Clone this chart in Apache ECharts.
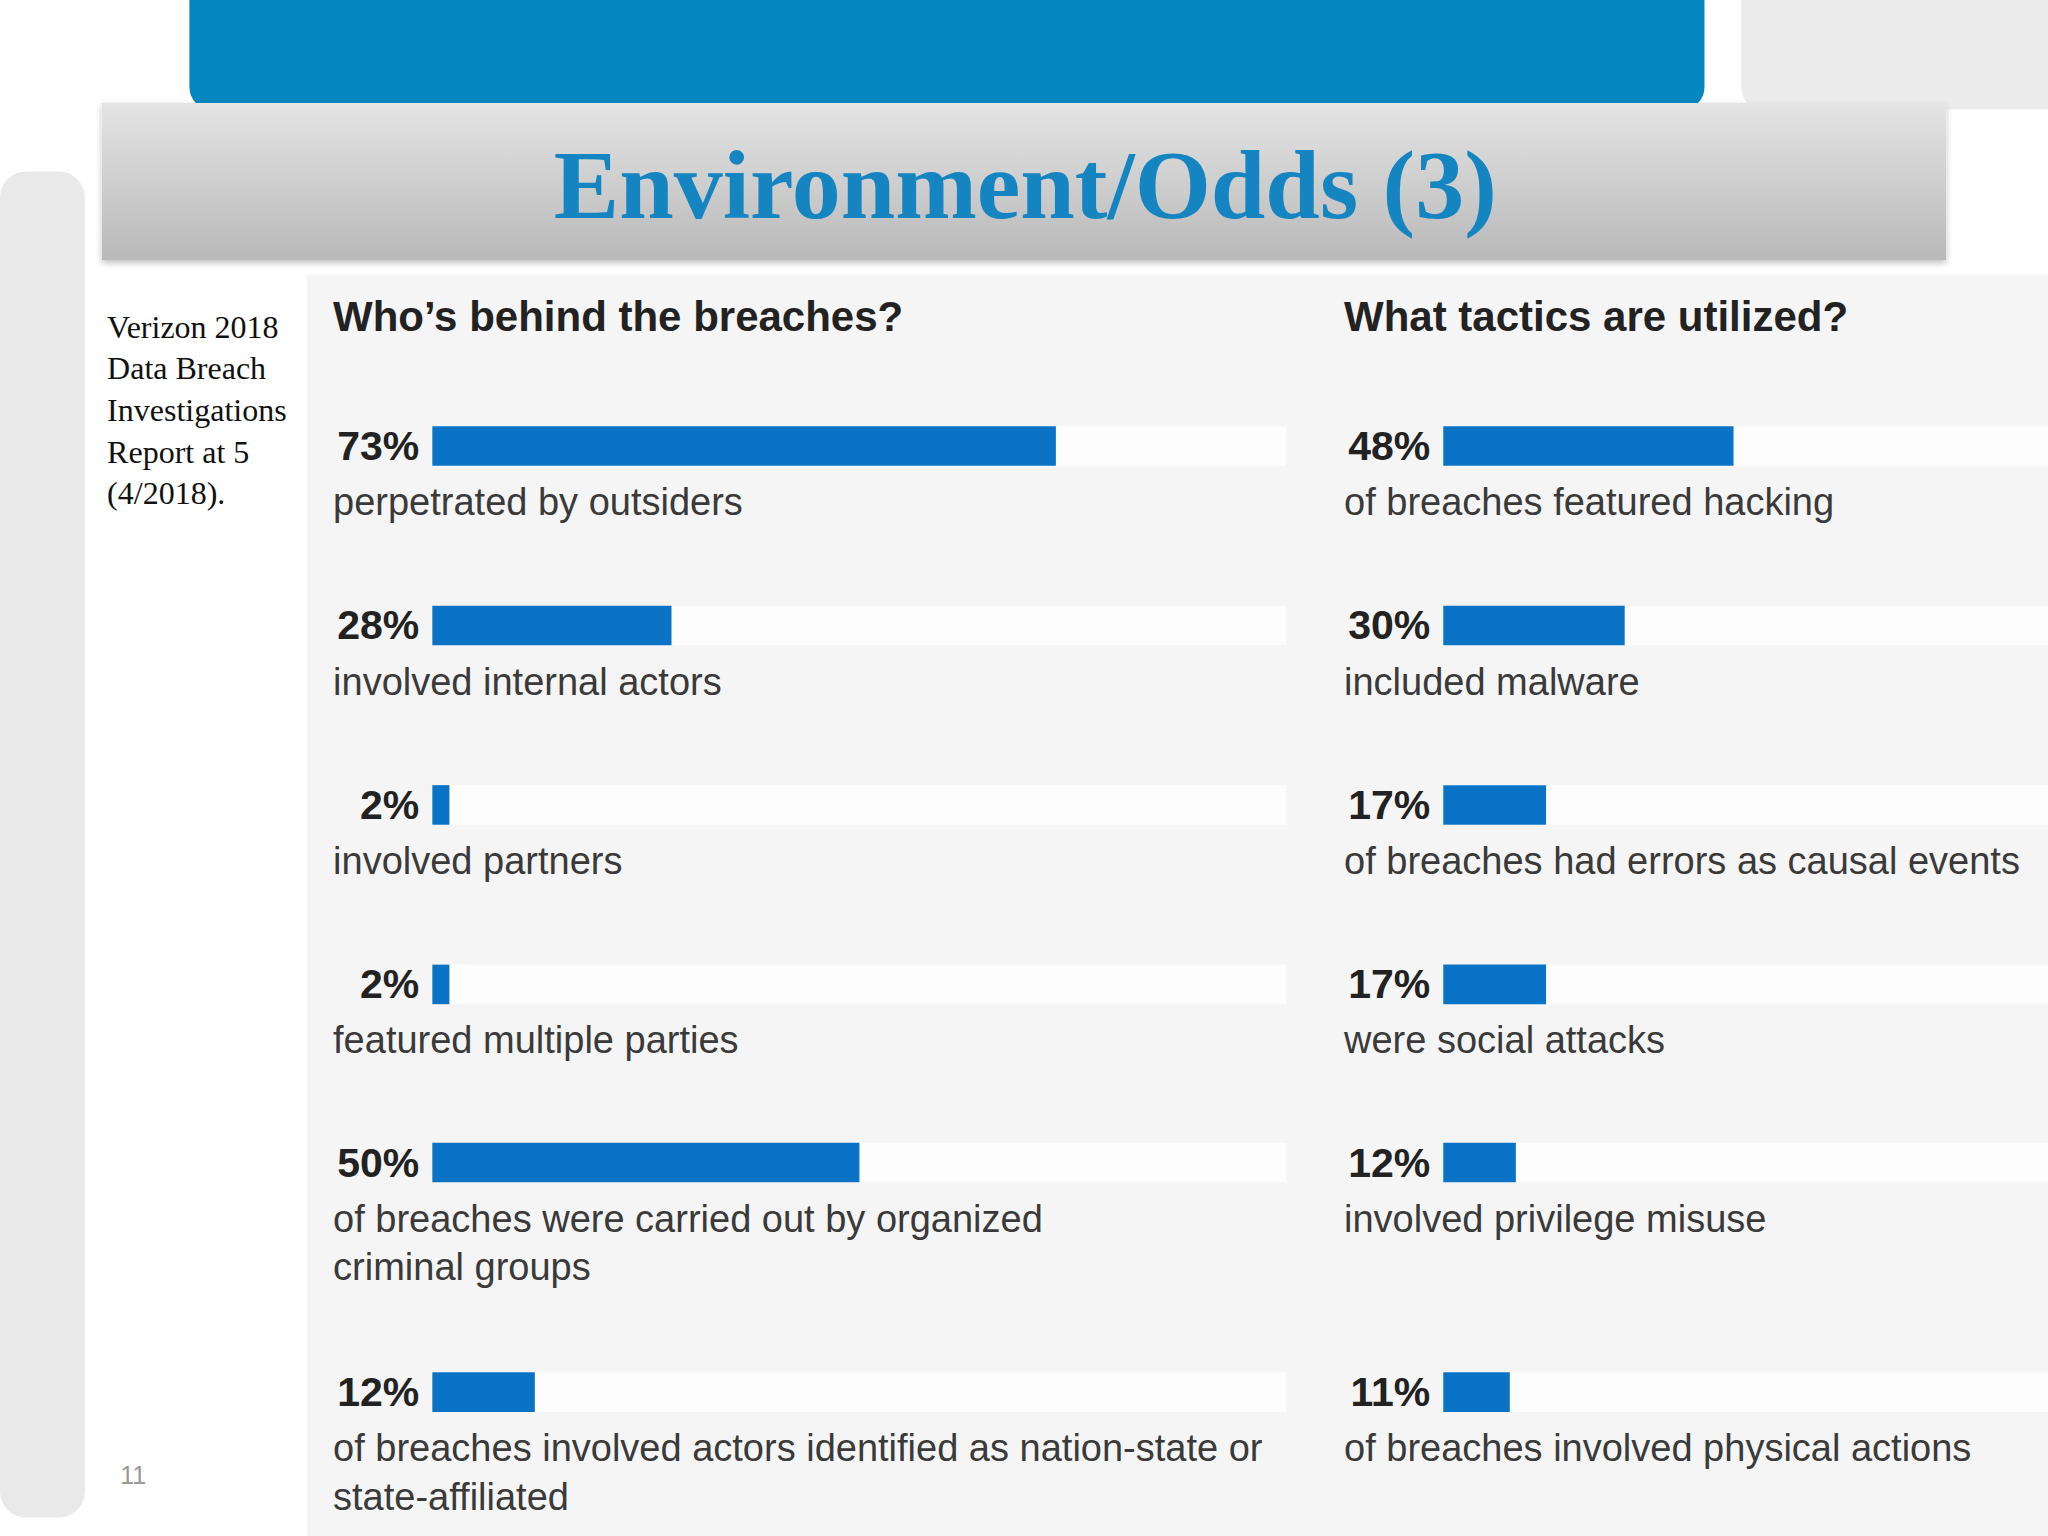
<!DOCTYPE html>
<html>
<head>
<meta charset="utf-8">
<script src="https://cdn.jsdelivr.net/npm/echarts@6/dist/echarts.min.js"></script>
<style>html,body{margin:0;padding:0;background:#fff}#main{width:2048px;height:1536px}</style>
</head>
<body>
<div id="main"></div>
<script>
var whoValues = [73, 28, 2, 2, 50, 12];
var whoLabels = ['perpetrated by outsiders', 'involved internal actors', 'involved partners',
    'featured multiple parties', 'of breaches were carried out by organized\ncriminal groups',
    'of breaches involved actors identified as nation-state or\nstate-affiliated'];
var tacticValues = [48, 30, 17, 17, 12, 11];
var tacticLabels = ['of breaches featured hacking', 'included malware', 'of breaches had errors as causal events',
    'were social attacks', 'involved privilege misuse', 'of breaches involved physical actions'];

var chart = echarts.init(document.getElementById('main'), null, { renderer: 'svg' });
// reference was drawn at 1568x1164, scale to the page
var sx = 2048 / 1568, sy = 1536 / 1164;
function X(v) { return v * sx; }
function Y(v) { return v * sy; }

var rowY = [338, 474, 610, 746, 881, 1055];
var barColor = '#0b73c6';
var textColor = '#3a3a3a';
var grids = [], xAxes = [], yAxes = [], series = [];
var graphics = [
    { type: 'rect', shape: { x: X(145), y: -20, width: X(1160), height: Y(98), r: 22 }, style: { fill: '#0487c0' } },
    { type: 'rect', shape: { x: X(1333), y: -20, width: X(260), height: Y(98), r: 22 }, style: { fill: '#ececec' } },
    { type: 'rect', shape: { x: 0, y: Y(130), width: X(65), height: Y(1020), r: 26 }, style: { fill: '#e9e9e9' } },
    { type: 'rect', shape: { x: X(78), y: Y(78), width: X(1412), height: Y(119) },
      style: { fill: new echarts.graphic.LinearGradient(0, 0, 0, 1, [{ offset: 0, color: '#e4e4e4' }, { offset: 1, color: '#b9b9b9' }]),
               shadowBlur: 6, shadowColor: 'rgba(0,0,0,0.25)', shadowOffsetY: 3 } },
    { type: 'text', x: X(785), y: Y(140), style: { text: 'Environment/Odds (3)', fill: '#1585c2',
      font: 'bold ' + Math.round(Y(74)) + 'px "Liberation Serif", serif', textAlign: 'center', textVerticalAlign: 'middle' } },
    { type: 'rect', shape: { x: X(235), y: Y(208), width: X(1340), height: Y(960) }, style: { fill: '#f5f5f5' } },
    { type: 'text', x: X(82), y: Y(232), style: { rich: { i: { fontStyle: 'italic' } },
      text: 'Verizon {i|2018}\n{i|Data Breach}\n{i|Investigations}\n{i|Report} at 5\n(4/2018).', fill: '#111',
      font: Math.round(Y(24)) + 'px "Liberation Serif", serif', lineHeight: Y(31.5) } },
    { type: 'text', x: X(92), y: Y(1108), style: { text: '11', fill: '#999', font: Math.round(Y(19)) + 'px "Liberation Sans", sans-serif' } },
    { type: 'text', x: X(255), y: Y(224), style: { text: 'Who\u2019s behind the breaches?', fill: '#222',
      font: 'bold ' + Math.round(Y(32)) + 'px "Liberation Sans", Arial, sans-serif' } },
    { type: 'text', x: X(1029), y: Y(224), style: { text: 'What tactics are utilized?', fill: '#222',
      font: 'bold ' + Math.round(Y(32)) + 'px "Liberation Sans", Arial, sans-serif' } }
];

function addColumn(values, labels, barLeft, textLeft) {
    values.forEach(function (v, i) {
        var idx = grids.length;
        grids.push({ left: X(barLeft), top: Y(rowY[i] - 16), width: X(654), height: Y(32) });
        xAxes.push({ type: 'value', gridIndex: idx, min: 0, max: 100, show: false });
        yAxes.push({ type: 'category', gridIndex: idx, data: [''], show: false });
        series.push({
            type: 'bar', xAxisIndex: idx, yAxisIndex: idx, data: [v], barWidth: Y(30),
            itemStyle: { color: barColor }, showBackground: true,
            backgroundStyle: { color: '#fdfdfd' }, silent: true,
            label: { show: true, position: 'left', distance: X(10), formatter: '{c}%', color: '#222',
                fontWeight: 'bold', fontSize: Math.round(Y(31)), fontFamily: '"Liberation Sans", Arial, sans-serif' }
        });
        graphics.push({ type: 'text', x: X(textLeft), y: Y(rowY[i] + 24), style: { text: labels[i], fill: textColor,
            font: Math.round(Y(29)) + 'px "Liberation Sans", Arial, sans-serif', lineHeight: Y(37) } });
    });
}
addColumn(whoValues, whoLabels, 331, 255);
addColumn(tacticValues, tacticLabels, 1105, 1029);

chart.setOption({
    animation: false,
    backgroundColor: '#ffffff',
    grid: grids, xAxis: xAxes, yAxis: yAxes, series: series,
    graphic: graphics
});
</script>
</body>
</html>
